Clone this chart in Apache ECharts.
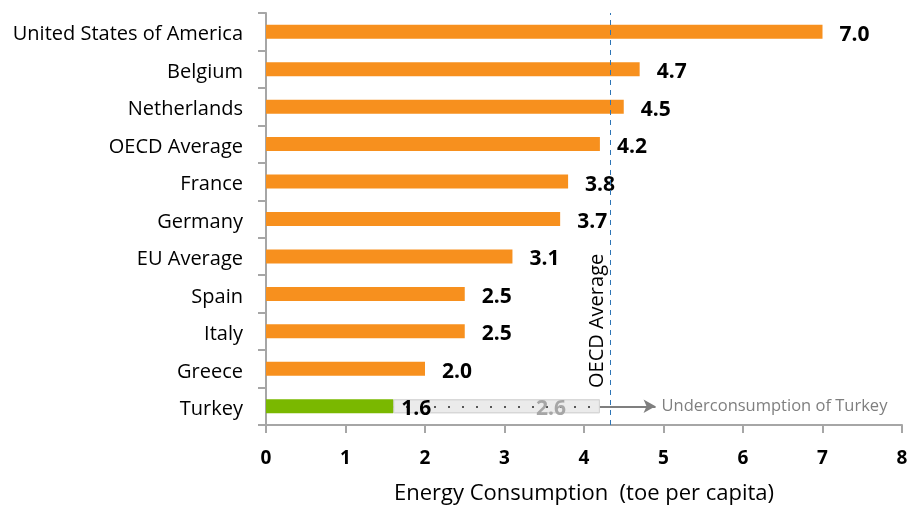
<!DOCTYPE html>
<html>
<head>
<meta charset="utf-8">
<script src="https://cdn.jsdelivr.net/npm/echarts@6/dist/echarts.min.js"></script>
<style>
  html, body { margin: 0; padding: 0; background: #fff; }
  #chart { width: 919px; height: 507px; }
</style>
</head>
<body>
<div id="chart"></div>
<script>
// Energy consumption per capita, top to bottom
const countries = ['United States of America', 'Belgium', 'Netherlands', 'OECD Average', 'France',
  'Germany', 'EU Average', 'Spain', 'Italy', 'Greece', 'Turkey'];
const consumption = [7.0, 4.7, 4.5, 4.2, 3.8, 3.7, 3.1, 2.5, 2.5, 2.0, 1.6];
// Turkey's shortfall against the OECD average (stacked after its bar)
const shortfall = [null, null, null, null, null, null, null, null, null, null, 2.6];
const oecdLineValue = 4.33;
const arrowEnd = 4.9;
const xTicks = [0, 1, 2, 3, 4, 5, 6, 7, 8];

const FONT = '"Open Sans", Lato, sans-serif';
const ORANGE = '#F7901E';
const GREEN = '#7AB800';
const AXIS_GREY = '#A6A6A6';

const mainData = consumption.map((v, i) => {
  if (countries[i] === 'Turkey') {
    return { value: v, itemStyle: { color: GREEN }, label: { distance: 8 } };
  }
  return v;
});

const chart = echarts.init(document.getElementById('chart'), null, { renderer: 'canvas' });
chart.setOption({
  animation: false,
  grid: { left: 266, right: 17, top: 13, bottom: 82, outerBoundsMode: 'none' },
  xAxis: {
    type: 'value',
    min: xTicks[0],
    max: xTicks[xTicks.length - 1],
    interval: 1,
    name: 'Energy Consumption  (toe per capita)',
    nameLocation: 'middle',
    nameGap: 58,
    nameTextStyle: { fontFamily: FONT, fontSize: 22, color: '#000' },
    axisLine: { show: true, onZero: false, lineStyle: { color: AXIS_GREY, width: 2 } },
    axisTick: { show: true, length: 8, lineStyle: { color: AXIS_GREY, width: 2 } },
    splitLine: { show: false },
    axisLabel: { fontFamily: FONT, fontSize: 19, fontWeight: 'bold', color: '#000', margin: 24 }
  },
  yAxis: [
    {
      type: 'category',
      data: countries,
      inverse: true,
      axisLine: { show: true, lineStyle: { color: AXIS_GREY, width: 2 } },
      axisTick: { show: true, length: 8, alignWithLabel: false, lineStyle: { color: AXIS_GREY, width: 2 } },
      axisLabel: {
        fontFamily: FONT, fontSize: 20, color: '#000', margin: 23,
        verticalAlign: 'top', lineHeight: 6
      }
    },
    {
      // helper axis for the reference line, spans the plot height
      type: 'value',
      min: 0,
      max: 1,
      show: false
    }
  ],
  series: [
    {
      type: 'bar',
      stack: 'total',
      data: mainData,
      barWidth: 14,
      itemStyle: { color: ORANGE },
      label: {
        show: true,
        position: 'right',
        distance: 17,
        offset: [0, 3],
        formatter: p => p.value.toFixed(1),
        fontFamily: FONT, fontSize: 21, fontWeight: 'bold', color: '#000'
      },
      z: 3
    },
    {
      type: 'bar',
      stack: 'total',
      data: shortfall,
      barWidth: 14,
      itemStyle: {
        color: '#EBEBEB',
        borderColor: '#D6D6D6',
        borderWidth: 1,
        decal: {
          symbol: 'rect',
          symbolSize: 1,
          color: '#555',
          dashArrayX: [2, 12],
          dashArrayY: [2, 12],
          rotation: 0
        }
      },
      label: {
        show: true,
        position: 'insideRight',
        distance: 34,
        offset: [0, 3],
        formatter: p => (p.value == null ? '' : p.value.toFixed(1)),
        fontFamily: FONT, fontSize: 21, fontWeight: 'bold', color: '#A6A6A6'
      },
      markLine: {
        silent: true,
        symbol: ['none', 'arrow'],
        symbolSize: [10, 12],
        lineStyle: { color: '#7F7F7F', type: 'solid', width: 2 },
        label: {
          show: true,
          position: 'end',
          formatter: 'Underconsumption of Turkey',
          fontFamily: FONT, fontSize: 16.5, color: '#7F7F7F',
          distance: 6
        },
        data: [[{ coord: [consumption[10] + shortfall[10], 'Turkey'] }, { coord: [arrowEnd, 'Turkey'] }]]
      },
      z: 2
    },
    {
      // OECD average reference line, drawn bottom to top
      type: 'scatter',
      yAxisIndex: 1,
      symbolSize: 0,
      silent: true,
      data: [[oecdLineValue, 0], [oecdLineValue, 1]],
      markLine: {
        silent: true,
        symbol: ['none', 'none'],
        lineStyle: { color: '#2E75B6', type: [5, 5], width: 1 },
        label: {
          show: true,
          position: 'insideStartTop',
          formatter: 'OECD Average',
          fontFamily: FONT, fontSize: 20, color: '#000',
          distance: [37, 3]
        },
        data: [[{ coord: [oecdLineValue, 0] }, { coord: [oecdLineValue, 1] }]]
      },
      z: 1
    }
  ]
});
</script>
</body>
</html>
